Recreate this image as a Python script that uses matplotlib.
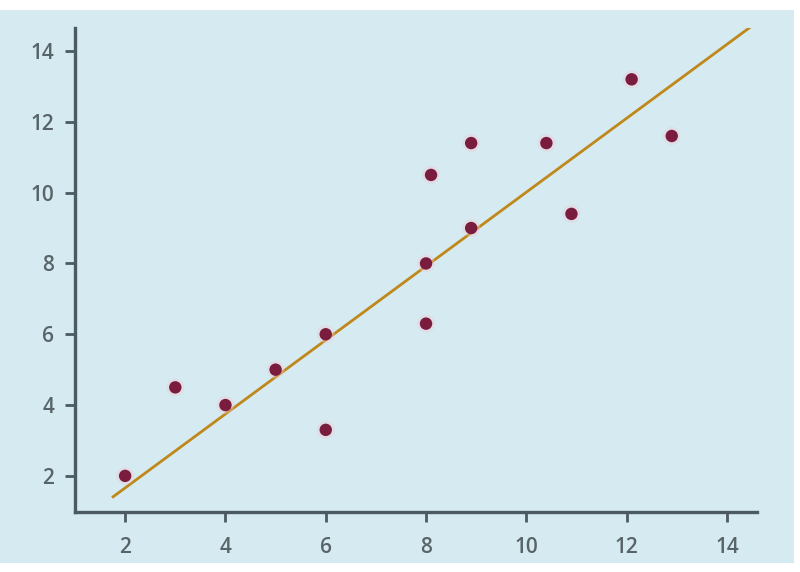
import matplotlib
matplotlib.use("Agg")
import matplotlib.pyplot as plt
from matplotlib.patches import Rectangle

# data
x_vals = [2, 3, 4, 5, 6, 6, 8, 8, 8.1, 8.9, 8.9, 10.4, 10.9, 12.1, 12.9]
y_vals = [2.0, 4.5, 4.0, 5.0, 6.0, 3.3, 8.0, 6.3, 10.5, 11.4, 9.0, 11.4, 9.4, 13.2, 11.6]
line_x = [1.76, 14.5]
line_y = [1.41, 14.71]
ticks = [2, 4, 6, 8, 10, 12, 14]

plt.rcParams['font.family'] = ['Open Sans', 'DejaVu Sans']

fig = plt.figure(figsize=(8, 5.72), dpi=100, facecolor='white')
bg = Rectangle((0, 9/572), 794/800, 553/572, transform=fig.transFigure,
               facecolor='#d5ebf1', edgecolor='none', zorder=-10)
fig.patches.append(bg)

ax = fig.add_axes([75/800, 1 - 512/572, (757 - 75)/800, (512 - 28)/572])
ax.set_facecolor('none')
ax.set_zorder(5)

ax.plot(line_x, line_y, color='#c0881a', lw=2.0, zorder=2)
ax.scatter(x_vals, y_vals, s=170, color='#f2c6d3', alpha=0.35, edgecolors='none', zorder=3)
ax.scatter(x_vals, y_vals, s=80, color='#7a1c3e', edgecolors='none', zorder=4)

ax.set_xlim(1.0, 14.6)
ax.set_ylim(0.98, 14.65)
ax.set_xticks(ticks)
ax.set_yticks(ticks)

for s in ['top', 'right']:
    ax.spines[s].set_visible(False)
for s in ['left', 'bottom']:
    ax.spines[s].set_color('#4c5b61')
    ax.spines[s].set_linewidth(2.4)

ax.tick_params(axis='both', colors='#4c5b61', labelcolor='#596469',
               length=7, width=2.0, labelsize=15)
ax.tick_params(axis='y', pad=8)
ax.tick_params(axis='x', pad=11)
for lab in ax.get_xticklabels() + ax.get_yticklabels():
    lab.set_fontweight('semibold')

fig.savefig('out.png', dpi=100, facecolor='white')
